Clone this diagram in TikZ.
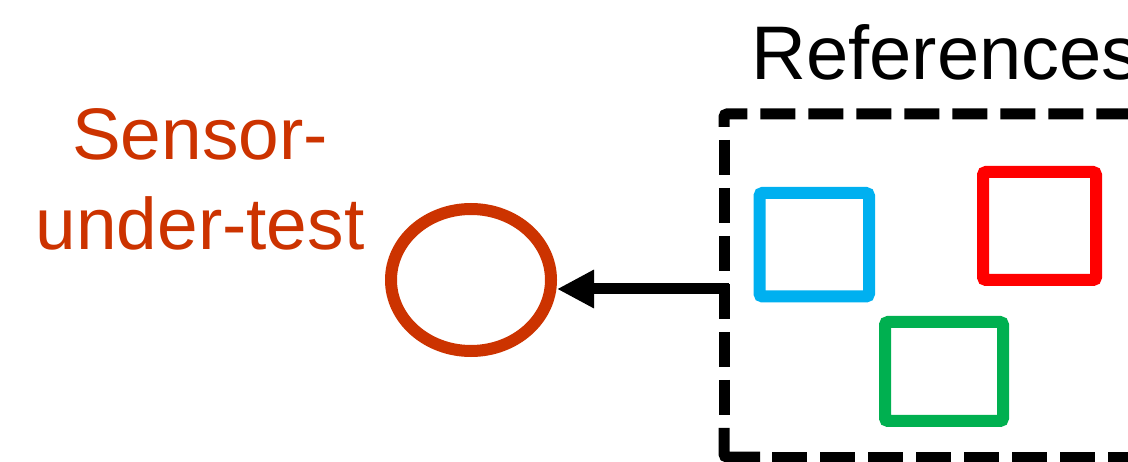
\documentclass[tikz,border=0pt]{standalone}
\usepackage{fontspec}
\setmainfont{Liberation Sans}
\usetikzlibrary{shapes.geometric,arrows.meta}
\definecolor{sutcol}{RGB}{204,51,0}
\definecolor{refblue}{RGB}{0,176,240}
\definecolor{refred}{RGB}{255,0,0}
\definecolor{refgreen}{RGB}{0,176,80}
\tikzset{
  refbox/.style={draw, line width=12pt, rounded corners=3pt, inner sep=0pt},
  dashedge/.style={line width=11pt, dash pattern=on 35pt off 13pt, rounded corners=3pt},
  solidedge/.style={line width=11pt, rounded corners=3pt},
  feed/.style={line width=11pt, -{Triangle[length=37pt,width=36pt]}},
  bigtext/.style={inner sep=0pt, font=\fontsize{73}{90}\selectfont}
}
\begin{document}
\begin{tikzpicture}[x=1pt,y=-1pt]
\clip (0,0) rectangle (1128,462);
\fill[white] (0,0) rectangle (1128,462);
% title
\node[bigtext, font=\fontsize{76}{90}\selectfont, anchor=base west] (title) at (751,80) {References};
% sensor label
\node[bigtext, text=sutcol, align=center, anchor=base] (label) at (200,250) {Sensor-\\under-test};
% sensor ellipse
\node[draw=sutcol, line width=12pt, ellipse, minimum width=160pt, minimum height=142pt, inner sep=0pt] (sut) at (471,280) {};
% dashed frame (cut off at right and bottom)
\draw[dashedge] (724,127) -- (724,114) -- (1200,114);
\draw[dashedge, dash phase=35pt] (724,127) -- (724,428);
\draw[solidedge] (724,428) -- (724,457) -- (760,457);
\draw[dashedge] (772,457) -- (1200,457);
% reference sensors
\node[refbox, draw=refblue, minimum width=109.5pt, minimum height=103.5pt] (blue) at (814.25,244.75) {};
\node[refbox, draw=refred, minimum width=113pt, minimum height=108pt] (red) at (1039.5,226) {};
\node[refbox, draw=refgreen, minimum width=118pt, minimum height=99pt] (green) at (944,371.5) {};
% connector
\coordinate (refedge) at (729,289);
\draw[feed] (refedge) -- (refedge -| sut.east);
\end{tikzpicture}
\end{document}
